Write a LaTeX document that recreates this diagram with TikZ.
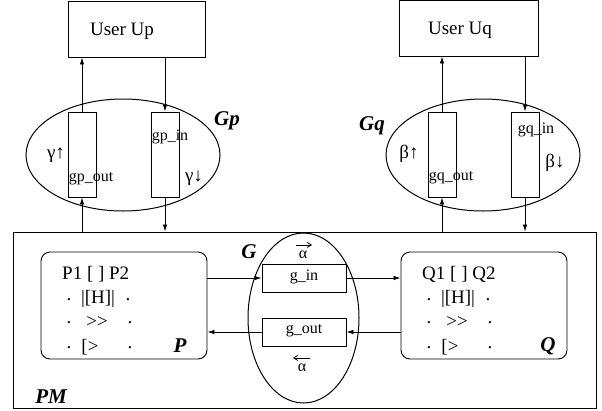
\documentclass[tikz,border=0pt]{standalone}
\usepackage{fontspec}
\setmainfont{Liberation Serif}
\usetikzlibrary{shapes.geometric,arrows.meta}
\newcommand\procbody[3]{%
  \node[txt,anchor=west] (#1r1) at (62,274) {#21 [ ] #22};
  \node[txt] (#1d1) at (69,300) {.};
  \node[txt] (#1h) at (98,299) {|[H]|};
  \node[txt] (#1d2) at (128,300) {.};
  \node[txt] (#1d3) at (69,323) {.};
  \node[txt] (#1s) at (97,322) {>{}>};
  \node[txt] (#1d4) at (130,323) {.};
  \node[txt] (#1d5) at (69,348) {.};
  \node[txt] (#1b) at (90,347) {[>};
  \node[txt] (#1d6) at (130,348) {.};
  \node[lbl] (#1l) at (#3,346) {#2};
}
\begin{document}
\begin{tikzpicture}[x=1pt,y=-1pt,
 box/.style={draw,line width=0.9pt,inner sep=0pt},
 rbox/.style={draw,line width=0.9pt,inner sep=0pt,rounded corners=9pt},
 oval/.style={draw,ellipse,line width=1pt,inner sep=0pt},
 txt/.style={font=\fontsize{19}{21}\selectfont,inner sep=0pt},
 small/.style={font=\fontsize{16}{18}\selectfont,inner sep=0pt},
 lbl/.style={font=\fontsize{21}{23}\selectfont\bfseries\itshape,inner sep=0pt},
 arr/.style={-{Latex[length=7pt,width=4.5pt]},line width=0.8pt},
 tiny/.style={-{Straight Barb[length=4pt,width=5pt]},line width=0.8pt}]
\useasboundingbox (0,0) rectangle (602,410);

% users
\node[box,minimum width=137pt,minimum height=56pt] (up) at (136.5,29) {};
\node[txt] (upt) at (122,31) {User Up};
\node[box,minimum width=139pt,minimum height=56pt] (uq) at (468.5,28) {};
\node[txt] (uqt) at (460,30) {User Uq};

% Gp
\node[oval,minimum width=194pt,minimum height=112pt] (Gp) at (123,155) {};
\node[box,minimum width=28pt,minimum height=85pt] (gpout) at (82,154.5) {};
\node[box,minimum width=28pt,minimum height=85pt] (gpin) at (165,154.5) {};
\node[small] (gpoutt) at (91,179) {gp\_out};
\node[small] (gpint) at (170,137) {gp\_in};
\node[txt] (gam1) at (56,155) {γ↑};
\node[txt] (gam2) at (194,178) {γ↓};
\node[lbl] (Gpl) at (227,121) {Gp};

% Gq
\node[oval,minimum width=194pt,minimum height=112pt] (Gq) at (483,155) {};
\node[box,minimum width=28pt,minimum height=85pt] (gqout) at (442,154.5) {};
\node[box,minimum width=28pt,minimum height=85pt] (gqin) at (525,154.5) {};
\node[small] (gqoutt) at (451,178) {gq\_out};
\node[small] (gqint) at (536,130) {gq\_in};
\node[txt] (bet1) at (409,154) {β↑};
\node[txt] (bet2) at (555,163) {β↓};
\node[lbl] (Gql) at (372,126) {Gq};

% PM
\node[box,minimum width=583pt,minimum height=176pt] (pm) at (304.5,320) {};
\node[lbl] (pml) at (51,397) {PM};

% P and Q
\node[rbox,minimum width=166pt,minimum height=107pt] (P) at (124,305.5) {};
\node[rbox,minimum width=166pt,minimum height=107pt] (Q) at (484,305.5) {};
\procbody{p}{P}{180}
\begin{scope}[xshift=360pt]
\procbody{q}{Q}{188}
\end{scope}

% G
\node[oval,minimum width=111pt,minimum height=170pt] (G) at (303.5,318) {};
\node[box,minimum width=84pt,minimum height=28pt] (gin) at (304,278) {};
\node[box,minimum width=84pt,minimum height=28pt] (gout) at (304,332) {};
\node[small] (gint) at (304,277) {g\_in};
\node[small] (goutt) at (304,331) {g\_out};
\node[lbl] (Gl) at (249,252) {G};
\node[small] (al1) at (303,255) {α};
\node[small] (al2) at (302,368) {α};
\draw[tiny] ([xshift=-7pt,yshift=6pt]al1.north) -- ([xshift=9pt,yshift=6pt]al1.north);
\draw[tiny] ([xshift=8pt,yshift=6pt]al2.north) -- ([xshift=-9pt,yshift=6pt]al2.north);

% connectors
\draw[arr] (gpout.north) -- (gpout.north |- up.south);
\draw[arr] (gpout.south |- pm.north) -- (gpout.south);
\draw[arr] (gpin.north |- up.south) -- (gpin.north);
\draw[arr] (gpin.south) -- (gpin.south |- pm.north);
\draw[arr] (gqout.north) -- (gqout.north |- uq.south);
\draw[arr] (gqout.south |- pm.north) -- (gqout.south);
\draw[arr] (gqin.north |- uq.south) -- (gqin.north);
\draw[arr] (gqin.south) -- (gqin.south |- pm.north);
\draw[arr] (P.east |- gin) -- (gin.west);
\draw[arr] (gin.east) -- (gin.east -| Q.west);
\draw[arr] (Q.west |- gout) -- (gout.east);
\draw[arr] (gout.west) -- (gout.west -| P.east);
\end{tikzpicture}
\end{document}
